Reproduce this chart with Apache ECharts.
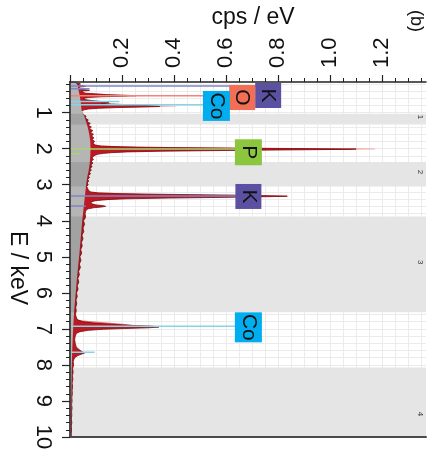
<!DOCTYPE html>
<html>
<head>
<meta charset="utf-8">
<script src="https://cdn.jsdelivr.net/npm/echarts@6/dist/echarts.min.js"></script>
<style>
  html, body { margin: 0; padding: 0; background: #fff; }
  #chart { width: 433px; height: 459px; }
</style>
</head>
<body>
<div id="chart"></div>
<script>
// EDX spectrum, energy (keV) running down, count rate (cps/eV) running right.

// Measured spectrum as [E keV, cps/eV]
const spectrum = [
  [0.15,0.01],[0.18,0.025],[0.20,0.04],[0.22,0.03],[0.25,0.045],[0.27,0.06],[0.29,0.04],[0.32,0.03],
  [0.35,0.04],[0.38,0.075],[0.40,0.05],[0.43,0.045],[0.46,0.06],[0.48,0.10],[0.50,0.14],[0.52,0.22],
  [0.53,0.255],[0.545,0.2],[0.56,0.12],[0.58,0.07],[0.61,0.05],[0.64,0.06],[0.67,0.09],[0.70,0.13],
  [0.72,0.15],[0.74,0.12],[0.76,0.16],[0.78,0.22],[0.80,0.29],[0.82,0.33],[0.83,0.345],[0.845,0.28],
  [0.86,0.18],[0.88,0.11],[0.90,0.07],[0.93,0.05],[0.96,0.045],[1.0,0.047],
  [1.05,0.05],[1.1,0.062],[1.15,0.058],[1.2,0.07],[1.25,0.066],[1.3,0.078],[1.35,0.07],[1.4,0.082],
  [1.45,0.075],[1.5,0.088],[1.55,0.079],[1.6,0.09],[1.65,0.083],[1.7,0.092],[1.75,0.085],[1.8,0.095],
  [1.85,0.088],[1.9,0.098],[1.93,0.12],[1.95,0.2],[1.97,0.4],[1.99,0.75],[2.0,0.95],[2.01,1.10],
  [2.02,1.06],[2.03,0.9],[2.05,0.6],[2.07,0.35],[2.09,0.22],[2.11,0.16],[2.13,0.13],
  [2.15,0.11],[2.17,0.1],[2.2,0.092],[2.25,0.085],[2.3,0.09],[2.35,0.082],[2.4,0.088],[2.45,0.08],
  [2.5,0.085],[2.55,0.077],[2.6,0.082],[2.65,0.074],[2.7,0.079],[2.75,0.07],[2.8,0.075],[2.85,0.068],
  [2.9,0.072],[2.95,0.066],[3.0,0.07],[3.05,0.064],[3.1,0.068],[3.15,0.07],[3.2,0.08],[3.23,0.11],
  [3.25,0.2],[3.27,0.4],[3.29,0.65],[3.31,0.8],[3.32,0.835],[3.33,0.78],[3.35,0.6],[3.37,0.38],
  [3.39,0.22],[3.41,0.15],[3.44,0.1],[3.47,0.085],[3.5,0.08],[3.53,0.085],[3.56,0.1],[3.58,0.125],
  [3.6,0.137],[3.62,0.12],[3.64,0.09],[3.67,0.07],[3.7,0.062],[3.75,0.06],[3.8,0.058],[3.9,0.06],
  [4.0,0.052],[4.1,0.056],[4.2,0.05],[4.3,0.053],[4.4,0.046],[4.5,0.05],[4.6,0.044],[4.7,0.047],
  [4.8,0.041],[4.9,0.045],[5.0,0.038],[5.1,0.042],[5.2,0.036],[5.3,0.04],[5.4,0.033],[5.5,0.036],
  [5.6,0.03],[5.7,0.034],[5.8,0.028],[5.9,0.031],[6.0,0.025],[6.1,0.028],[6.2,0.023],[6.3,0.026],
  [6.4,0.022],[6.5,0.024],[6.6,0.021],[6.7,0.025],[6.75,0.03],[6.8,0.05],[6.84,0.09],[6.87,0.16],
  [6.9,0.22],[6.92,0.31],[6.95,0.342],[6.97,0.3],[6.99,0.21],[7.01,0.13],[7.04,0.07],[7.08,0.038],
  [7.12,0.025],[7.2,0.02],[7.3,0.018],[7.4,0.02],[7.5,0.024],[7.56,0.032],[7.61,0.042],[7.65,0.05],
  [7.67,0.056],[7.7,0.045],[7.74,0.03],[7.8,0.018],[7.85,0.015],[7.9,0.012],[8.0,0.014],[8.1,0.01],
  [8.2,0.012],[8.3,0.009],[8.4,0.011],[8.5,0.008],[8.6,0.01],[8.7,0.008],[8.8,0.009],[8.9,0.007],
  [9.0,0.008],[9.1,0.006],[9.2,0.008],[9.3,0.006],[9.4,0.007],[9.5,0.005],[9.6,0.007],[9.7,0.005],
  [9.8,0.006],[9.9,0.005],[10.0,0.005]
];

// Second acquisition, drawn behind the first
const spectrumAlt = [
  [0.15,0.0],[0.40,0.03],[0.46,0.05],[0.48,0.13],[0.50,0.07],[0.52,0.2],[0.54,0.15],[0.58,0.04],
  [0.75,0.1],[0.80,0.3],[0.815,0.41],[0.825,0.41],[0.84,0.3],[0.88,0.06],[0.95,0.04],[1.0,0.04],
  [1.9,0.07],[1.97,0.3],[1.995,1.05],[2.005,1.17],[2.015,1.175],[2.025,1.05],[2.05,0.45],
  [2.1,0.12],[2.2,0.07],[3.2,0.055],[3.27,0.35],[3.305,0.84],[3.32,0.84],[3.34,0.7],[3.37,0.25],
  [3.45,0.07],[3.7,0.04],[6.75,0.015],[6.86,0.2],[6.88,0.24],[6.9,0.2],[6.95,0.1],[7.0,0.03],
  [7.1,0.01],[10.0,0.002]
];

// Bremsstrahlung background
const background = [
  [0.15,0.02],[0.25,0.03],[0.35,0.032],[0.45,0.035],[0.55,0.038],[0.65,0.04],[0.75,0.042],
  [0.85,0.043],[0.95,0.045],[1.1,0.055],[1.25,0.062],[1.4,0.068],[1.6,0.074],[1.8,0.078],
  [2.0,0.079],[2.2,0.078],[2.4,0.076],[2.6,0.072],[2.8,0.066],[3.0,0.062],[3.2,0.059],[3.4,0.056],
  [3.6,0.053],[3.8,0.05],[4.0,0.047],[4.5,0.041],[5.0,0.035],[5.5,0.028],[6.0,0.022],[6.5,0.016],
  [7.0,0.012],[7.5,0.009],[8.0,0.007],[8.5,0.006],[9.0,0.005],[9.5,0.004],[10.0,0.003]
];

// Element line markers and their tags
const lineElements = ['K', 'O', 'Co', 'P', 'K', 'Co'];
const lineEnergy   = [0.26, 0.53, 0.78, 2.01, 3.31, 6.93];
const tagEnergy    = [0.525, 0.581, 0.814, 2.10, 3.326, 6.957];
const tagCps       = [0.762, 0.662, 0.563, 0.686, 0.686, 0.686];

const minorElements = ['K', 'Co', 'P', 'K', 'Co'];
const minorEnergy   = [0.34, 0.69, 2.14, 3.59, 7.65];
const minorCps      = [0.075, 0.19, 0.04, 0.06, 0.095];

// Energy windows shaded grey, with their numbers
const bandStart  = [1.03, 2.37, 3.88, 8.07];
const bandEnd    = [1.33, 3.05, 6.54, 10.0];
const bandLabels = ['1', '2', '3', '4'];

// Axis ticks
const eMajor = [1, 2, 3, 4, 5, 6, 7, 8, 9, 10];
const cpsMajor = [0, 0.2, 0.4, 0.6, 0.8, 1.0, 1.2];
const cpsLabels = [0.2, 0.4, 0.6, 0.8, 1.0, 1.2];

const eMinor = [], eGrid = [];
for (let k = 1; k <= 50; k++) {
  const v = +(k * 0.2).toFixed(1);
  eGrid.push(v);
  if (k % 5) eMinor.push(v);
}
const cpsMinor = [], cpsGrid = [];
for (let k = 1; k <= 27; k++) {
  const v = +(k * 0.05).toFixed(2);
  cpsGrid.push(v);
  if (k % 4) cpsMinor.push(v);
}

const FONT = 'Liberation Sans, Arial, sans-serif';
const boxColor  = { K: '#5b51a3', O: '#f26f55', Co: '#00aeef', P: '#8cc63f' };
const markColor = { K: '#7f86c9', O: '#f4837a', Co: '#86d3ea', P: '#a8d673' };
const boxSize   = { K: [26, 25], O: [26, 25], Co: [27, 30], P: [27, 26] };

const E_MIN = 0.15, E_MAX = 10, CPS_MAX = 1.369;

function spectrumFill(points, fill, stroke, z, extra) {
  return Object.assign({
    type: 'custom', z: z, silent: true,
    xAxisIndex: 0, yAxisIndex: 0,
    data: points.map(p => [p[1], p[0]]),
    encode: { x: 0, y: 1 },
    renderItem: function (params, api) {
      if (params.dataIndex !== 0) return null;
      const pts = [api.coord([0, points[0][0]])];
      points.forEach(p => pts.push(api.coord([p[1], p[0]])));
      pts.push(api.coord([0, points[points.length - 1][0]]));
      const children = [{ type: 'polygon', shape: { points: pts }, style: { fill: fill } }];
      if (stroke) {
        children.push({ type: 'polyline', shape: { points: pts.slice(1, -1) },
          style: { stroke: stroke, lineWidth: 0.8, fill: null } });
      }
      return { type: 'group', children: children };
    }
  }, extra || {});
}

function eAxis(extra) {
  return Object.assign({
    type: 'value', min: E_MIN, max: E_MAX, inverse: true, position: 'left',
    axisLine: { show: false }, axisTick: { show: false }, axisLabel: { show: false },
    splitLine: { show: false }
  }, extra);
}
function cpsAxis(extra) {
  return Object.assign({
    type: 'value', min: 0, max: CPS_MAX, position: 'top',
    axisLine: { show: false }, axisTick: { show: false }, axisLabel: { show: false },
    splitLine: { show: false }
  }, extra);
}

const bandWhite = bandStart.map((s, i) => [{ yAxis: s }, { yAxis: bandEnd[i] }]);
// label offsets are in the rotated label frame: +x runs down the page
const bandTint = bandStart.map((s, i) => [
  { yAxis: s, name: bandLabels[i], label: i === 3 ? { offset: [14, 0] } : {} },
  { yAxis: bandEnd[i] }
]);

const series = [];

// White band base hides the grid; the grey tint sits over the spectra
series.push(spectrumFill(spectrumAlt, '#ea6d6b', null, 2, {
  markArea: { silent: true, z: 1, itemStyle: { color: '#ffffff', opacity: 1 },
    label: { show: false }, data: bandWhite }
}));
series.push(spectrumFill(spectrum, '#bb1a22', '#7d0b0f', 2));
series.push(spectrumFill(background, '#b5b5b5', null, 2, {
  markArea: { silent: true, z: 4, itemStyle: { color: 'rgba(0,0,0,0.1)', opacity: 1 },
    label: { show: true, position: 'insideRight', rotate: -90, fontSize: 8,
      color: '#333', fontFamily: FONT, distance: 6 },
    data: bandTint }
}));

lineEnergy.forEach((e, i) => {
  series.push({
    type: 'line', z: 5, silent: true, symbol: 'none',
    data: [[0, e], [tagCps[i], e]],
    lineStyle: { color: markColor[lineElements[i]], width: 1.5 }
  });
});
minorEnergy.forEach((e, i) => {
  series.push({
    type: 'line', z: 5, silent: true, symbol: 'none',
    data: [[0, e], [minorCps[i], e]],
    lineStyle: { color: markColor[minorElements[i]], width: 1.5 }
  });
});

series.push({
  type: 'scatter', z: 6, silent: true, symbol: 'rect',
  data: lineElements.map((el, i) => ({
    name: el, value: [tagCps[i], tagEnergy[i]],
    symbolSize: boxSize[el], itemStyle: { color: boxColor[el], opacity: 1 }
  })),
  label: { show: true, position: 'inside', formatter: '{b}', rotate: -90,
    fontSize: 21, color: '#111', fontFamily: FONT }
});

const chart = echarts.init(document.getElementById('chart'), null, { renderer: 'canvas' });
chart.setOption({
  animation: false,
  backgroundColor: '#ffffff',
  grid: { left: 70, top: 82, right: 7, bottom: 22, containLabel: false },
  xAxis: [
    cpsAxis({ z: 10,
      axisLine: { show: true, lineStyle: { color: '#222', width: 1.5 } },
      axisTick: { show: true, customValues: cpsMajor, length: 7, lineStyle: { color: '#222', width: 1.2 } },
      axisLabel: { show: true, customValues: cpsLabels, rotate: -90, fontSize: 22, margin: 14,
        color: '#111', fontFamily: FONT, formatter: v => v.toFixed(1) } }),
    cpsAxis({ z: 10,
      axisTick: { show: true, customValues: cpsMinor, length: 4, lineStyle: { color: '#222', width: 1 } } }),
    cpsAxis({ z: 0,
      axisTick: { show: false, customValues: cpsGrid },
      splitLine: { show: true, lineStyle: { color: '#ebebeb', width: 1 } } }),
    cpsAxis({ z: 10, position: 'bottom',
      axisLine: { show: true, lineStyle: { color: '#4a4a4a', width: 2 } } })
  ],
  yAxis: [
    eAxis({ z: 10,
      axisLine: { show: true, lineStyle: { color: '#222', width: 1.5 } },
      axisTick: { show: true, customValues: eMajor, length: 8, lineStyle: { color: '#222', width: 1.2 } },
      axisLabel: { show: true, customValues: eMajor, rotate: -90, fontSize: 22, margin: 16,
        color: '#111', fontFamily: FONT } }),
    eAxis({ z: 10,
      axisTick: { show: true, customValues: eMinor, length: 4, lineStyle: { color: '#222', width: 1 } } }),
    eAxis({ z: 0,
      axisTick: { show: false, customValues: eGrid },
      splitLine: { show: true, lineStyle: { color: '#ebebeb', width: 1 } } }),
    eAxis({ z: 10, position: 'right',
      axisLine: { show: true, lineStyle: { color: '#4a4a4a', width: 2 } } })
  ],
  graphic: [
    { type: 'text', x: 253, y: 18, style: { text: 'cps / eV', font: '23px ' + FONT,
      fill: '#111', textAlign: 'center', textVerticalAlign: 'middle' } },
    { type: 'text', x: 17, y: 268, rotation: -Math.PI / 2, style: { text: 'E / keV',
      font: '23px ' + FONT, fill: '#111', textAlign: 'center', textVerticalAlign: 'middle' } },
    { type: 'text', x: 416, y: 21, rotation: -Math.PI / 2, style: { text: '(b)',
      font: '18px ' + FONT, fill: '#111', textAlign: 'center', textVerticalAlign: 'middle' } }
  ],
  series: series
});
</script>
</body>
</html>
